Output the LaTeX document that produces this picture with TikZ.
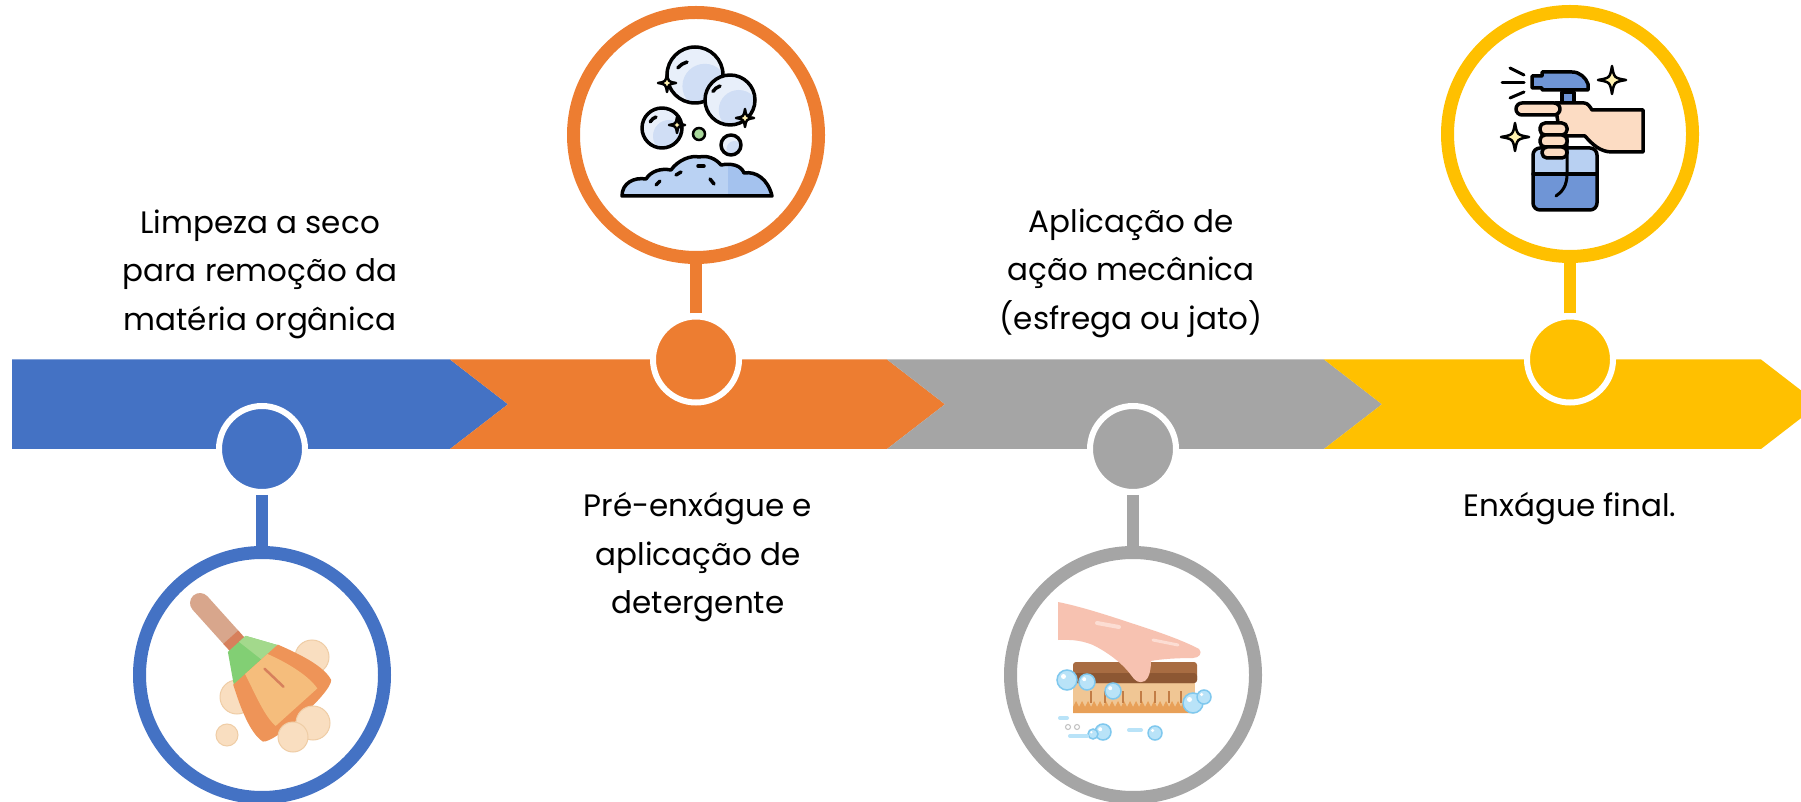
\documentclass[tikz,border=0pt]{standalone}
\usepackage{fontspec}
\setmainfont{Poppins}
\definecolor{blueC}{HTML}{4472C4}
\definecolor{orangeC}{HTML}{ED7D31}
\definecolor{grayC}{HTML}{A5A5A5}
\definecolor{yellowC}{HTML}{FFC000}
% broom
\definecolor{handleC}{HTML}{D8A68C}
\definecolor{bandC}{HTML}{D7805C}
\definecolor{greenC}{HTML}{82CF74}
\definecolor{greenL}{HTML}{A3D98C}
\definecolor{headD}{HTML}{EE9458}
\definecolor{headL}{HTML}{F5BD7C}
\definecolor{dustC}{HTML}{F9DEC0}
\definecolor{dustE}{HTML}{EFCDA6}
% bubbles
\definecolor{bubC}{HTML}{E8EFFA}
\definecolor{bubS}{HTML}{D0DEF5}
\definecolor{foamC}{HTML}{BAD2F3}
\definecolor{foamD}{HTML}{A4C2EE}
\definecolor{sparkC}{HTML}{FFF1B0}
\definecolor{dotG}{HTML}{A9D89B}
% scrubbing
\definecolor{skinP}{HTML}{F7C2B1}
\definecolor{skinH}{HTML}{FCDDD3}
\definecolor{woodC}{HTML}{A86C42}
\definecolor{woodD}{HTML}{8D5733}
\definecolor{brisC}{HTML}{F0C694}
\definecolor{brisO}{HTML}{E8A058}
\definecolor{brisL}{HTML}{C27D46}
\definecolor{bubB}{HTML}{7FC8EE}
\definecolor{bubBL}{HTML}{B9E3F8}
% spray
\definecolor{sprayB}{HTML}{6F95D6}
\definecolor{sprayL}{HTML}{B8D0F2}
\definecolor{skinY}{HTML}{FCDCC3}
\begin{document}
\begin{tikzpicture}[x=1pt,y=1pt,
  smalldot/.style={circle, inner sep=0pt, minimum size=86pt, draw=white, line width=6pt, fill=#1},
  bigring/.style={circle, inner sep=0pt, minimum size=245pt, draw=#1, line width=13pt, fill=white},
  stem/.style={draw=#1, line width=12pt},
  steptext/.style={align=center, inner sep=0pt, font=\fontsize{31}{48.5}\selectfont, anchor=base},
  ink/.style={draw=black, line width=3.5pt, line join=round, line cap=round},
  dust/.style={fill=dustC, draw=dustE, line width=1pt},
  sparkle/.pic={
    \path[fill=sparkC, draw=black, line width=2.5pt, line join=round]
      (0,1) .. controls (0.15,0.15) .. (1,0) .. controls (0.15,-0.15) .. (0,-1)
      .. controls (-0.15,-0.15) .. (-1,0) .. controls (-0.15,0.15) .. (0,1) -- cycle;},
  bubble/.pic={
    \fill[bubC] (0,0) circle (1);
    \begin{scope}\clip (0,0) circle (1); \fill[bubS] (0.35,-0.4) circle (0.8);\end{scope}
    \draw[ink] (0,0) circle (1);},
  sbubble/.pic={
    \path[fill=bubBL, draw=bubB, line width=1.5pt] (0,0) circle (1);
    \fill[white] (-0.35,0.35) circle (0.25);}
]
\useasboundingbox (0,0) rectangle (1801,801);
\clip (0,0) rectangle (1801,801);

% ---- arrow band ----
\fill[blueC] (12,441.5) -- (450,441.5) -- (508,396.75) -- (450,352) -- (12,352) -- cycle;
\fill[orangeC] (450,441.5) -- (887,441.5) -- (945,396.75) -- (887,352) -- (450,352) -- (508,396.75) -- cycle;
\fill[grayC] (887,441.5) -- (1324,441.5) -- (1382,396.75) -- (1324,352) -- (887,352) -- (945,396.75) -- cycle;
\fill[yellowC] (1324,441.5) -- (1761,441.5) -- (1819,396.75) -- (1761,352) -- (1324,352) -- (1382,396.75) -- cycle;

% ---- markers, rings and stems ----
\node[smalldot=blueC] (s1) at (262,352) {};
\node[bigring=blueC] (r1) at (262,126) {};
\draw[stem=blueC] (s1) -- (r1);

\node[smalldot=orangeC] (s2) at (696,441.5) {};
\node[bigring=orangeC] (r2) at (696,666) {};
\draw[stem=orangeC] (s2) -- (r2);

\node[smalldot=grayC] (s3) at (1133,352) {};
\node[bigring=grayC] (r3) at (1133,126) {};
\draw[stem=grayC] (s3) -- (r3);

\node[smalldot=yellowC] (s4) at (1570,441.5) {};
\node[bigring=yellowC] (r4) at (1570,667) {};
\draw[stem=yellowC] (s4) -- (r4);

% ---- labels (base = baseline of the last line) ----
\node[steptext] (t1) at (260,470.5) {Limpeza a seco\\para remoção da\\matéria orgânica};
\node[steptext] (t2) at (698,187.5) {Pré-enxágue e\\aplicação de\\detergente};
\node[steptext] (t3) at (1131,471.5) {Aplicação de\\ação mecânica\\(esfrega ou jato)};
\node[steptext] (t4) at (1570,284) {Enxágue final.};

% ---- icon: broom sweeping dust ----
\begin{scope}[shift={(262,126)}]
  \path[dust] (50,18) circle (17);
  \path[dust] (-25,-22) circle (17);
  \path[dust] (-35,-60) circle (11);
  \begin{scope}[shift={(-62,72)}, rotate=-48]
    \draw[handleC, line width=20pt, line cap=round] (0,0) -- (48,0);
    \fill[bandC] (46,-10) rectangle (56,10);
    \fill[greenC] (55,-12) -- (55,12) -- (84,30) -- (84,-30) -- cycle;
    \fill[greenL] (55,3) -- (55,12) -- (84,30) -- (84,8) -- cycle;
    \fill[headD] (83,-30) .. controls (105,-40) and (130,-50) .. (145,-46)
      .. controls (154,-40) and (155,38) .. (145,46)
      .. controls (130,50) and (105,40) .. (83,30) -- cycle;
    \fill[headL] (83,-14) .. controls (105,-20) and (128,-28) .. (142,-26)
      -- (142,30) .. controls (128,32) and (105,26) .. (83,16) -- cycle;
    \draw[bandC, line width=2.5pt, line cap=round] (92,4) -- (118,6);
  \end{scope}
  \path[dust] (51,-48) circle (17);
  \path[dust] (31,-62) circle (15);
\end{scope}

% ---- icon: soap bubbles over foam ----
\begin{scope}[shift={(696,666)}]
  \def\foam{(-74,-61) .. controls (-74,-48) and (-62,-42) .. (-50,-44)
    .. controls (-45,-36) and (-35,-33) .. (-25,-35)
    .. controls (-18,-25) and (-5,-20) .. (3,-22)
    .. controls (12,-20) and (20,-24) .. (25,-30)
    .. controls (35,-28) and (45,-30) .. (48,-38)
    .. controls (60,-36) and (72,-44) .. (76,-61) -- cycle}
  \fill[foamC] \foam;
  \begin{scope}\clip \foam; \fill[foamD] (32,-70) rectangle (80,0);\end{scope}
  \draw[ink] \foam;
  \draw[ink] (-40,-50) -- (-36,-46);
  \draw[ink] (-20,-40) -- (-15,-37);
  \draw[ink] (2,-31) -- (8,-31);
  \draw[ink] (14,-44) -- (18,-49);
  \pic[scale=20] at (-34,7) {bubble};
  \pic[scale=28] at (-1,60) {bubble};
  \pic[scale=25] at (34,35) {bubble};
  \pic[scale=10] at (35,-10) {bubble};
  \path[fill=dotG, draw=black, line width=2.5pt] (3,1) circle (6);
  \draw[ink] (-9,73) arc (105:140:18);
  \draw[ink] (24,49) arc (110:145:15);
  \draw[ink] (-40,18) arc (110:150:11);
  \pic[scale=9] at (-29,52) {sparkle};
  \pic[scale=9] at (49,17) {sparkle};
  \pic[scale=8] at (-19,10) {sparkle};
\end{scope}

% ---- icon: hand scrubbing with a brush ----
\begin{scope}[shift={(1133,126)}]
  \fill[brisC] (-60,-8) rectangle (62,-36);
  \fill[brisO] (-60,-38) -- (-60,-32)
    \foreach \i in {0,...,19} { -- ({-57+6*\i},-26) -- ({-54+6*\i},-32) } -- (62,-32) -- (62,-38) -- cycle;
  \foreach \x in {-42,-28,-10,8,22,36,48} \draw[brisL, line width=2pt] (\x,-16) -- (\x,-28);
  \fill[woodC, rounded corners=3pt] (-60,-8) rectangle (64,13);
  \fill[woodD, rounded corners=3pt] (-60,-8) rectangle (64,2);
  \fill[skinP] (-75,73) .. controls (-50,68) and (-20,58) .. (10,48)
    .. controls (35,40) and (55,32) .. (66,26)
    .. controls (70,22) and (66,17) .. (60,17)
    .. controls (45,17) and (28,16) .. (18,14)
    .. controls (18,5) and (16,-3) .. (12,-6)
    .. controls (6,-9) and (2,-6) .. (-2,0)
    .. controls (-8,8) and (-20,20) .. (-40,30)
    .. controls (-55,36) and (-65,35) .. (-75,35) -- cycle;
  \draw[skinH, line width=4pt, line cap=round] (-36,52) -- (-14,48);
  \draw[skinH, line width=3pt, line cap=round] (20,35) -- (45,30);
  \pic[scale=10] at (-66,-5) {sbubble};
  \pic[scale=8] at (-46,-7) {sbubble};
  \pic[scale=8] at (-20,-16) {sbubble};
  \pic[scale=10] at (60,-28) {sbubble};
  \pic[scale=7] at (71,-22) {sbubble};
  \pic[scale=8] at (-30,-57) {sbubble};
  \pic[scale=5] at (-40,-59) {sbubble};
  \pic[scale=7] at (22,-58) {sbubble};
  \draw[bubBL, line width=4pt, line cap=round] (-73,-43) -- (-66,-43);
  \draw[bubBL, line width=4pt, line cap=round] (-63,-61) -- (-46,-61);
  \draw[bubBL, line width=4pt, line cap=round] (-4,-55) -- (8,-55);
  \draw[gray!50, line width=1pt] (-65,-52) circle (2.5);
  \draw[gray!50, line width=1pt] (-56,-52) circle (2.5);
\end{scope}

% ---- icon: hand holding a spray bottle ----
\begin{scope}[shift={(1570,667)}]
  \draw[ink, line width=3pt] (-60,66) -- (-46,59);
  \draw[ink, line width=3pt] (-68,51) -- (-46,51);
  \draw[ink, line width=3pt] (-60,36) -- (-46,42);
  % bottle
  \fill[sprayL, rounded corners=7pt] (-37,-76) rectangle (27,-14);
  \fill[sprayB, rounded corners=7pt] (-37,-76) rectangle (27,-40);
  \fill[sprayB] (-37,-45) rectangle (27,-40);
  \draw[ink] (-37,-40) -- (27,-40);
  \draw[ink, rounded corners=7pt] (-37,-14) rectangle (27,-76);
  \draw[ink, line width=3pt] (-3,10) -- (-3,-40) .. controls (-3,-52) and (-8,-58) .. (-14,-62);
  % trigger head
  \path[fill=sprayB, ink] (-8,6) rectangle (4,42);
  \path[fill=sprayB, ink] (-38,46) -- (-38,58) -- (-28,58) -- (-28,62) -- (2,62)
    .. controls (10,62) and (16,56) .. (18,50) -- (18,44) -- (-28,44) -- (-28,46) -- cycle;
  % hand
  \path[fill=skinY, ink] (-15,31) -- (14,31) .. controls (18,31) and (20,27) .. (22,24)
    -- (73,24) -- (73,-18) -- (42,-18) .. controls (30,-18) and (22,-10) .. (15,-2) -- (-10,-2) -- cycle;
  \path[fill=skinY, ink, rounded corners=6pt] (-54,19) rectangle (-10,31);
  \path[fill=skinY, ink, rounded corners=5pt] (-30,-1) rectangle (-3,11);
  \path[fill=skinY, ink, rounded corners=5pt] (-30,-13) rectangle (-3,-1);
  \path[fill=skinY, ink, rounded corners=5pt] (-28,-24) rectangle (-3,-13);
  \pic[scale=14] at (42,54) {sparkle};
  \pic[scale=14] at (-55,-3) {sparkle};
\end{scope}
\end{tikzpicture}
\end{document}
